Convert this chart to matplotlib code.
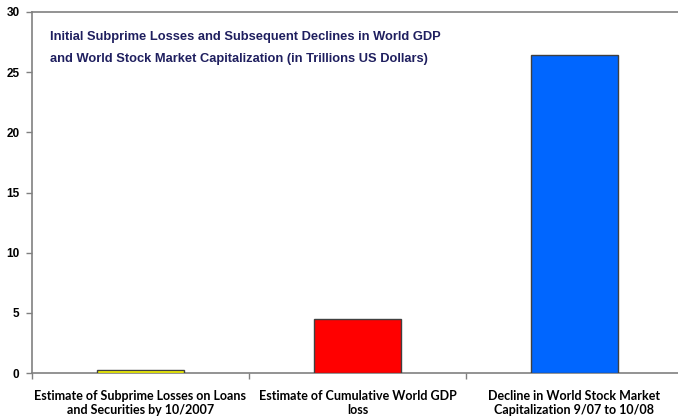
import numpy as np
import matplotlib.pyplot as plt

# Categories and values (trillions of US dollars)
categories = [
    "Estimate of Subprime Losses on Loans\nand Securities by 10/2007",
    "Estimate of Cumulative World GDP\nloss",
    "Decline in World Stock Market\nCapitalization 9/07 to 10/08",
]
values = [0.25, 4.5, 26.4]
bar_colors = ["#FFFF00", "#FF0000", "#0066FF"]
y_ticks = [0, 5, 10, 15, 20, 25, 30]

title_text = ("Initial Subprime Losses and Subsequent Declines in World GDP\n"
              "and World Stock Market Capitalization (in Trillions US Dollars)")

fig = plt.figure(figsize=(6.78, 4.17), dpi=100)
ax = fig.add_axes([32 / 678, 1 - 373 / 417, 651 / 678, 361 / 417])

x = np.arange(len(categories))
ax.bar(x, values, width=0.4, color=bar_colors,
       edgecolor="#404040", linewidth=1.0, zorder=3)

ax.set_xlim(-0.5, len(categories) - 0.5)
ax.set_ylim(0, 30)

# y axis
ax.set_yticks(y_ticks)
ax.set_yticklabels([str(t) for t in y_ticks],
                   fontfamily="Liberation Sans", fontweight="bold",
                   fontsize=8.5)
ax.tick_params(axis="y", direction="out", length=4, width=1,
               color="#808080", pad=5)

# x axis: ticks between categories, labels centred under bars
ax.set_xticks(x)
ax.set_xticklabels(categories, fontfamily="Lato", fontweight="bold",
                   fontsize=9, linespacing=1.2)
ax.tick_params(axis="x", which="major", length=0, pad=12)
ax.set_xticks(np.arange(len(categories) + 1) - 0.5, minor=True)
ax.tick_params(axis="x", which="minor", direction="out", length=4,
               width=1, color="#808080")

for side in ["left", "bottom", "top", "right"]:
    ax.spines[side].set_color("#808080")
    ax.spines[side].set_linewidth(1.2)

ax.text(18 / 651, 1 - 19 / 361, title_text, transform=ax.transAxes,
        ha="left", va="top", fontfamily="Liberation Sans",
        fontweight="bold", fontsize=9.3, color="#1F1F5F",
        linespacing=2.1)

fig.savefig("out.png", dpi=100)
